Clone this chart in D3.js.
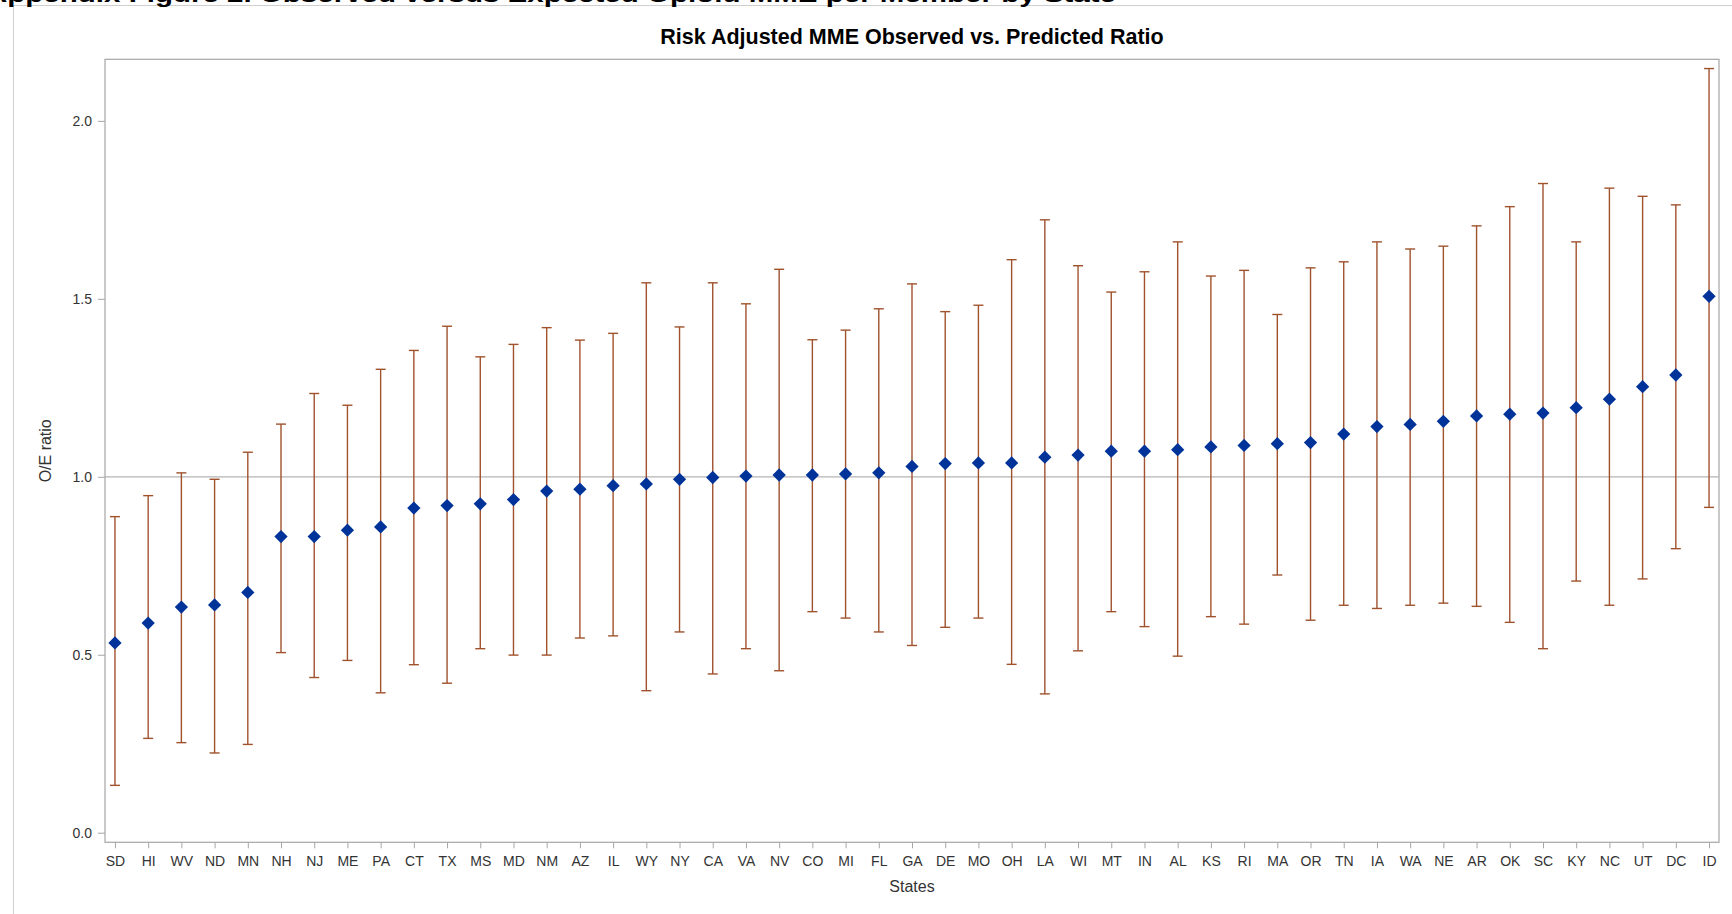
<!DOCTYPE html>
<html>
<head>
<meta charset="utf-8">
<script src="https://cdn.jsdelivr.net/npm/d3@7"></script>
<style>
  html, body { margin: 0; padding: 0; background: #fff; }
  svg { display: block; font-family: "Liberation Sans", Arial, Helvetica, sans-serif; }
</style>
</head>
<body>
<svg id="chart" width="1732" height="914"></svg>
<script>
// States ordered by observed / expected ratio
const states = ["SD","HI","WV","ND","MN","NH","NJ","ME","PA","CT","TX","MS","MD","NM","AZ",
  "IL","WY","NY","CA","VA","NV","CO","MI","FL","GA","DE","MO","OH","LA","WI","MT","IN",
  "AL","KS","RI","MA","OR","TN","IA","WA","NE","AR","OK","SC","KY","NC","UT","DC","ID"];

// Point estimate of the O/E ratio
const ratio = [0.533,0.589,0.634,0.640,0.675,0.832,0.832,0.850,0.859,0.912,0.919,0.924,0.936,0.960,0.965,
  0.975,0.980,0.993,0.998,1.002,1.005,1.005,1.008,1.011,1.029,1.037,1.039,1.039,1.055,1.061,1.072,1.072,
  1.076,1.084,1.088,1.093,1.096,1.120,1.141,1.147,1.156,1.171,1.176,1.179,1.194,1.218,1.253,1.286,1.507];

// Lower confidence limit
const lower = [0.133,0.265,0.253,0.224,0.248,0.506,0.436,0.484,0.393,0.472,0.420,0.517,0.499,0.499,0.547,
  0.553,0.399,0.564,0.446,0.517,0.455,0.621,0.603,0.564,0.526,0.577,0.603,0.473,0.390,0.511,0.621,0.579,
  0.496,0.607,0.586,0.724,0.597,0.639,0.630,0.639,0.645,0.636,0.591,0.517,0.707,0.639,0.713,0.798,0.914];

// Upper confidence limit
const upper = [0.888,0.947,1.011,0.993,1.069,1.148,1.234,1.201,1.302,1.355,1.423,1.337,1.372,1.419,1.384,
  1.403,1.545,1.421,1.545,1.486,1.583,1.385,1.412,1.472,1.542,1.464,1.482,1.610,1.722,1.593,1.519,1.576,
  1.660,1.564,1.580,1.456,1.587,1.604,1.660,1.640,1.648,1.705,1.759,1.824,1.660,1.811,1.788,1.764,2.147];

const yTicks = [0, 0.5, 1.0, 1.5, 2.0];
const refValue = 1.0;

const pageTitle = "Appendix Figure 2. Observed versus Expected Opioid MME per Member by State";
const chartTitle = "Risk Adjusted MME Observed vs. Predicted Ratio";
const xTitle = "States";
const yTitle = "O/E ratio";

const rows = states.map((s, i) => ({ state: s, ratio: ratio[i], lower: lower[i], upper: upper[i] }));

const svg = d3.select("#chart");
const W = 1732, H = 914;
const plot = { left: 105, right: 1719, top: 59.3, bottom: 842.3 };

const BAR = "#a0522d";
const MARK = "#003399";
const AXIS = "#a6a6a6";
const TEXT = "#333333";

svg.append("rect").attr("width", W).attr("height", H).attr("fill", "#fff");

// outer graph border
svg.append("rect")
  .attr("x", 13.5).attr("y", 5.5)
  .attr("width", W).attr("height", H)
  .attr("fill", "none").attr("stroke", "#cfcfcf").attr("stroke-width", 1);

// page heading, partly above the top edge
svg.append("text")
  .attr("x", -14).attr("y", 2)
  .attr("font-size", 22).attr("font-weight", "bold").attr("fill", "#000")
  .attr("textLength", 1130).attr("lengthAdjust", "spacingAndGlyphs")
  .text(pageTitle);

const x = d3.scalePoint()
  .domain(states)
  .range([plot.left, plot.right])
  .padding(0.3);

const y = d3.scaleLinear()
  .domain([-0.027, 2.173])
  .range([plot.bottom, plot.top]);

// chart title
svg.append("text")
  .attr("x", 912).attr("y", 44)
  .attr("text-anchor", "middle")
  .attr("font-size", 21.5).attr("font-weight", "bold").attr("fill", "#000")
  .text(chartTitle);

// plot frame
svg.append("rect")
  .attr("x", plot.left).attr("y", plot.top)
  .attr("width", plot.right - plot.left).attr("height", plot.bottom - plot.top)
  .attr("fill", "none").attr("stroke", AXIS).attr("stroke-width", 1.2);

// reference line at 1.0
svg.append("line")
  .attr("x1", plot.left).attr("x2", plot.right)
  .attr("y1", y(refValue)).attr("y2", y(refValue))
  .attr("stroke", "#b4b4b4").attr("stroke-width", 1.3);

// y axis
const yAxis = svg.append("g")
  .attr("transform", `translate(${plot.left},0)`)
  .call(d3.axisLeft(y).tickValues(yTicks).tickFormat(d3.format(".1f")).tickSize(7).tickSizeOuter(0).tickPadding(6));
yAxis.select(".domain").remove();
yAxis.selectAll(".tick line").attr("stroke", AXIS);
yAxis.selectAll(".tick text").attr("fill", TEXT).attr("font-size", 14)
  .attr("font-family", "'Liberation Sans', Arial, sans-serif");

// x axis
const xAxis = svg.append("g")
  .attr("transform", `translate(0,${plot.bottom})`)
  .call(d3.axisBottom(x).tickSize(6).tickSizeOuter(0).tickPadding(8));
xAxis.select(".domain").remove();
xAxis.selectAll(".tick line").attr("stroke", AXIS);
xAxis.selectAll(".tick text").attr("fill", TEXT).attr("font-size", 14)
  .attr("font-family", "'Liberation Sans', Arial, sans-serif");

// axis titles
svg.append("text")
  .attr("x", 912).attr("y", 892)
  .attr("text-anchor", "middle").attr("font-size", 16).attr("fill", TEXT)
  .text(xTitle);

svg.append("text")
  .attr("transform", `translate(51,${(plot.top + plot.bottom) / 2}) rotate(-90)`)
  .attr("text-anchor", "middle").attr("font-size", 16).attr("fill", TEXT)
  .text(yTitle);

// error bars
const bars = svg.append("g").attr("stroke", BAR).attr("stroke-width", 1.4).attr("fill", "none");
const capHalf = 5;
bars.selectAll("line.whisker").data(rows).join("line")
  .attr("class", "whisker")
  .attr("x1", d => x(d.state)).attr("x2", d => x(d.state))
  .attr("y1", d => y(d.lower)).attr("y2", d => y(d.upper));
bars.selectAll("line.capLo").data(rows).join("line")
  .attr("class", "capLo")
  .attr("x1", d => x(d.state) - capHalf).attr("x2", d => x(d.state) + capHalf)
  .attr("y1", d => y(d.lower)).attr("y2", d => y(d.lower));
bars.selectAll("line.capHi").data(rows).join("line")
  .attr("class", "capHi")
  .attr("x1", d => x(d.state) - capHalf).attr("x2", d => x(d.state) + capHalf)
  .attr("y1", d => y(d.upper)).attr("y2", d => y(d.upper));

// diamond markers
const diamond = d3.symbol().type(d3.symbolSquare).size(88);
svg.append("g").selectAll("path").data(rows).join("path")
  .attr("d", diamond)
  .attr("transform", d => `translate(${x(d.state)},${y(d.ratio)}) rotate(45)`)
  .attr("fill", MARK);
</script>
</body>
</html>
